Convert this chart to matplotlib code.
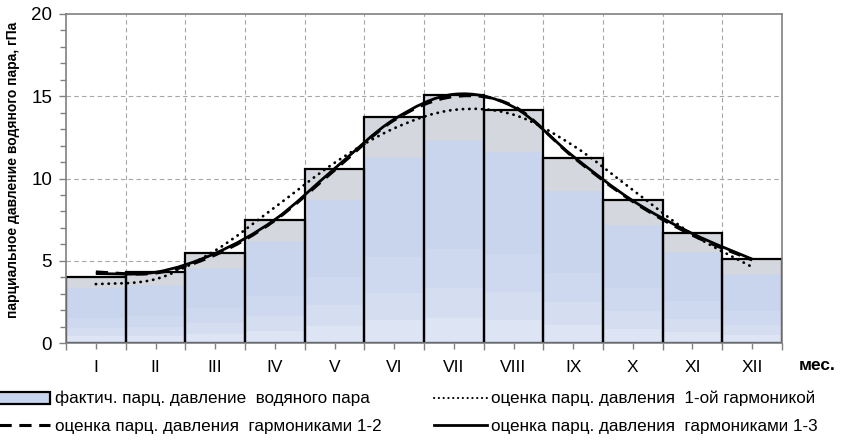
import matplotlib
matplotlib.use('Agg')
import matplotlib.pyplot as plt
from matplotlib.path import Path
from matplotlib.patches import PathPatch, Patch
from matplotlib.lines import Line2D
from matplotlib.colors import to_rgb
import numpy as np

plt.rcParams['font.family'] = ['Liberation Sans', 'DejaVu Sans']

# monthly water vapour pressure, hPa
months = ['I', 'II', 'III', 'IV', 'V', 'VI', 'VII', 'VIII', 'IX', 'X', 'XI', 'XII']
e_fact = [4.02, 4.30, 5.50, 7.50, 10.60, 13.75, 15.05, 14.15, 11.22, 8.70, 6.70, 5.10]
e_h1   = [3.58, 3.88, 5.62, 8.25, 10.95, 13.05, 14.17, 13.88, 12.00, 9.30, 6.60, 4.62]
e_h12  = [4.32, 4.25, 5.35, 7.45, 10.50, 13.55, 14.98, 14.40, 11.30, 8.60, 6.55, 5.05]
e_h123 = [4.22, 4.30, 5.45, 7.50, 10.60, 13.60, 15.12, 14.35, 11.35, 8.65, 6.65, 5.10]

x = np.arange(1, len(months) + 1)


def smooth_path(xs, ys):
    # cubic bezier through the points (same idea as excel "smoothed line")
    p = np.column_stack([xs, ys]).astype(float)
    p = np.vstack([p[0], p, p[-1]])
    verts = [p[1]]
    codes = [Path.MOVETO]
    for i in range(1, len(p) - 2):
        c1 = p[i] + (p[i + 1] - p[i - 1]) / 6.0
        c2 = p[i + 1] - (p[i + 2] - p[i]) / 6.0
        verts += [c1, c2, p[i + 1]]
        codes += [Path.CURVE4] * 3
    return Path(verts, codes)


fig = plt.figure(figsize=(8.41, 4.45), dpi=100)
ax = fig.add_axes([66 / 841, 1 - 343 / 445, 716 / 841, 329 / 445])

# bar fill: gray cap on top, blue fading lighter to the bottom
bands = [(0.00, '#DDE4F4'), (0.10, '#D5DEF1'), (0.22, '#CED9EF'),
         (0.38, '#C9D5EC'), (0.82, '#D4D8DE')]
n = 200
grad = np.zeros((n, 1, 3))
for k in range(n):
    f = (k + 0.5) / n
    col = bands[0][1]
    for lo, c in bands:
        if f >= lo:
            col = c
    grad[k, 0] = to_rgb(col)

for xi, h in zip(x, e_fact):
    ax.imshow(grad, extent=(xi - 0.5, xi + 0.5, 0, h), aspect='auto',
              origin='lower', interpolation='nearest', zorder=1)
ax.bar(x, e_fact, width=1.0, fill=False, edgecolor='black', linewidth=1.6, zorder=2)

ax.add_patch(PathPatch(smooth_path(x, e_h1), fill=False, color='black', lw=2.0,
                       linestyle=(0, (0.1, 2.2)), capstyle='round', zorder=3))
ax.add_patch(PathPatch(smooth_path(x, e_h12), fill=False, color='black', lw=2.2,
                       linestyle=(0, (4, 2.5)), zorder=3))
ax.add_patch(PathPatch(smooth_path(x, e_h123), fill=False, color='black', lw=2.0,
                       zorder=4))

ax.set_xlim(0.5, 12.5)
ax.set_ylim(0, 20)

ax.set_yticks([0, 5, 10, 15, 20])
ax.set_yticks(np.arange(0, 21, 1), minor=True)
ax.set_xticks(np.arange(0.5, 13, 1))
ax.set_xticklabels([])
ax.set_xticks(x, minor=True)
ax.set_xticklabels(months, minor=True)

ax.tick_params(axis='y', which='major', labelsize=13.5, length=5, width=1, color='#808080', pad=5)
ax.tick_params(axis='y', which='minor', length=4, width=1, color='#808080')
ax.tick_params(axis='x', which='major', length=5, width=1, color='#808080')
ax.tick_params(axis='x', which='minor', labelsize=12.5, length=4, width=1,
               color='#808080', pad=8)

for s in ax.spines.values():
    s.set_color('#808080')
    s.set_linewidth(1.2)

for yv in [5, 10, 15]:
    ax.axhline(yv, color='#A6A6A6', lw=0.8, linestyle=(0, (4, 3)), zorder=0)
for xv in np.arange(1.5, 12.5, 1):
    ax.axvline(xv, color='#A6A6A6', lw=0.8, linestyle=(0, (4, 3)), zorder=0)

fig.text(13 / 841, 1 - 170 / 445, 'парциальное давление водяного пара, гПа',
         rotation=90, ha='center', va='center', fontsize=10, fontweight='bold')
fig.text(817 / 841, 1 - 365 / 445, 'мес.', ha='center', va='center',
         fontsize=12.5, fontweight='bold')

h_bar = Patch(facecolor='#C9D5EC', edgecolor='black', linewidth=1.6)
h_h12 = Line2D([], [], color='black', lw=2.2, linestyle=(0, (4, 2.5)))
h_h1 = Line2D([], [], color='black', lw=1.5, linestyle=(0, (0.1, 2.2)), dash_capstyle='round')
h_h123 = Line2D([], [], color='black', lw=2.0)

leg_kw = dict(loc='upper left', frameon=False, fontsize=12.3, handlelength=3.1,
              handletextpad=0.25, labelspacing=0.75, borderaxespad=0, borderpad=0)
fig.legend([h_bar, h_h12],
           ['фактич. парц. давление  водяного пара',
            'оценка парц. давления  гармониками 1-2'],
           bbox_to_anchor=(-0.003, 1 - 391 / 445), **leg_kw)
fig.legend([h_h1, h_h123],
           ['оценка парц. давления  1-ой гармоникой',
            'оценка парц. давления  гармониками 1-3'],
           bbox_to_anchor=(434 / 841, 1 - 391 / 445), **leg_kw)

fig.savefig('out.png', dpi=100)
plt.close(fig)
